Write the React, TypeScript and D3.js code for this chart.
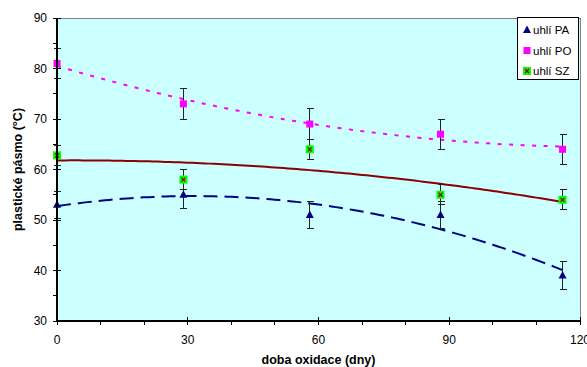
import React from "react";
import * as d3 from "d3";

const days = [0, 29, 58, 88, 116];
const seriesNames = ["uhlí PA", "uhlí PO", "uhlí SZ"];
const paValues = [53, 55, 51, 51, 39];
const poValues = [81, 73, 69, 67, 64];
const szValues = [62.8, 58, 64, 55, 54];
const paErrors = [2.7, 2.7, 2.7, 2.7, 2.7];
const poErrors = [3, 3, 3, 3, 3];
const szErrors = [2, 2, 2, 2, 2];
const xTicks = [0, 30, 60, 90, 120];
const yTicks = [30, 40, 50, 60, 70, 80, 90];

const W = 587, H = 367;
const M = { left: 57, right: 580, top: 18, bottom: 321 };

function polyFit2(xs: number[], ys: number[]) {
  // least squares quadratic (like Excel's polynomial trendline)
  const n = xs.length;
  let s = [0, 0, 0, 0, 0];
  let t = [0, 0, 0];
  for (let i = 0; i < n; i++) {
    const x = xs[i], y = ys[i];
    for (let k = 0; k < 5; k++) s[k] += Math.pow(x, k);
    for (let k = 0; k < 3; k++) t[k] += Math.pow(x, k) * y;
  }
  const A = [
    [s[0], s[1], s[2], t[0]],
    [s[1], s[2], s[3], t[1]],
    [s[2], s[3], s[4], t[2]],
  ];
  for (let i = 0; i < 3; i++) {
    let p = i;
    for (let r = i + 1; r < 3; r++) if (Math.abs(A[r][i]) > Math.abs(A[p][i])) p = r;
    [A[i], A[p]] = [A[p], A[i]];
    for (let r = 0; r < 3; r++) {
      if (r === i) continue;
      const f = A[r][i] / A[i][i];
      for (let c = i; c < 4; c++) A[r][c] -= f * A[i][c];
    }
  }
  const coef = [A[0][3] / A[0][0], A[1][3] / A[1][1], A[2][3] / A[2][2]];
  return (x: number) => coef[0] + coef[1] * x + coef[2] * x * x;
}

export default function App() {
  const x = d3.scaleLinear().domain([0, 120]).range([M.left, M.right]);
  const y = d3.scaleLinear().domain([30, 90]).range([M.bottom, M.top]);
  const font = "Liberation Sans, Arial, sans-serif";

  const trendPath = (vals: number[]) => {
    const f = polyFit2(days, vals);
    const pts = d3.range(0, 116.01, 1).map((d) => [d, f(d)] as [number, number]);
    return d3.line<[number, number]>().x((d) => x(d[0])).y((d) => y(d[1]))(pts) || "";
  };

  const errBars = (vals: number[], errs: number[], key: string) =>
    vals.map((v, i) => {
      const cx = x(days[i]);
      const y1 = y(v + errs[i]);
      const y2 = y(v - errs[i]);
      return (
        <g key={key + i} stroke="#222" strokeWidth={1} shapeRendering="crispEdges">
          <line x1={cx} x2={cx} y1={y1} y2={y2} />
          <line x1={cx - 3} x2={cx + 4} y1={y1} y2={y1} />
          <line x1={cx - 3} x2={cx + 4} y1={y2} y2={y2} />
        </g>
      );
    });

  const tri = (cx: number, cy: number, k: string) => (
    <path key={k} d={`M${cx},${cy - 4.5}L${cx + 4},${cy + 3}L${cx - 4},${cy + 3}Z`} fill="#000080" />
  );
  const sq = (cx: number, cy: number, k: string) => (
    <rect key={k} x={cx - 3.5} y={cy - 3.5} width={7} height={7} fill="#ff00ff" />
  );
  const szm = (cx: number, cy: number, k: string) => (
    <g key={k}>
      <rect x={cx - 4} y={cy - 4} width={8} height={8} fill="#00ff00" />
      <path d={`M${cx - 2},${cy - 2}L${cx + 2},${cy + 2}M${cx + 2},${cy - 2}L${cx - 2},${cy + 2}`} stroke="#990000" strokeWidth={1.2} />
    </g>
  );

  const yMinor = d3.range(35, 90, 10);
  const xMinor = d3.range(10, 120, 10).filter((d) => d % 30 !== 0);

  return (
    <svg width={W} height={H} style={{ position: "absolute", left: 0, top: 0, background: "#fff" }} fontFamily={font}>
      <rect x={M.left} y={M.top} width={M.right - M.left} height={M.bottom - M.top} fill="#ccffff" />
      <line x1={M.left} x2={M.right} y1={M.top} y2={M.top} stroke="#808080" shapeRendering="crispEdges" />
      <line x1={M.right} x2={M.right} y1={M.top} y2={M.bottom} stroke="#808080" shapeRendering="crispEdges" />

      {/* trendlines */}
      <path d={trendPath(szValues)} fill="none" stroke="#8b0000" strokeWidth={2} />
      <path d={trendPath(poValues)} fill="none" stroke="#ff00ff" strokeWidth={2} strokeDasharray="4,7.5" />
      <path d={trendPath(paValues)} fill="none" stroke="#000080" strokeWidth={2} strokeDasharray="14,7" />

      {errBars(poValues, poErrors, "po")}
      {errBars(szValues, szErrors, "sz")}
      {errBars(paValues, paErrors, "pa")}

      {paValues.map((v, i) => tri(x(days[i]), y(v), "pam" + i))}
      {poValues.map((v, i) => sq(x(days[i]), y(v), "pom" + i))}
      {szValues.map((v, i) => szm(x(days[i]), y(v), "szm" + i))}

      {/* axes */}
      <g stroke="#000" strokeWidth={1} shapeRendering="crispEdges">
        <line x1={M.left} x2={M.left} y1={M.top} y2={M.bottom} strokeWidth={1.5} />
        <line x1={M.left} x2={M.right} y1={M.bottom} y2={M.bottom} strokeWidth={1.5} />
        {yTicks.map((t) => (
          <line key={"yt" + t} x1={M.left - 4} x2={M.left + 4} y1={y(t)} y2={y(t)} />
        ))}
        {yMinor.map((t) => (
          <line key={"ym" + t} x1={M.left - 4} x2={M.left} y1={y(t)} y2={y(t)} />
        ))}
        {xTicks.map((t) => (
          <line key={"xt" + t} x1={x(t)} x2={x(t)} y1={M.bottom - 4} y2={M.bottom + 4} />
        ))}
        {xMinor.map((t) => (
          <line key={"xm" + t} x1={x(t)} x2={x(t)} y1={M.bottom} y2={M.bottom + 4} />
        ))}
      </g>
      {yTicks.map((t) => (
        <text key={"yl" + t} x={M.left - 10} y={y(t)} dy="0.35em" textAnchor="end" fontSize={12} fill="#000">
          {t}
        </text>
      ))}
      {xTicks.map((t) => (
        <text key={"xl" + t} x={x(t)} y={M.bottom + 23} textAnchor="middle" fontSize={12} fill="#000">
          {t}
        </text>
      ))}
      <text x={(M.left + M.right) / 2} y={364} textAnchor="middle" fontSize={12.5} fontWeight="bold">
        doba oxidace (dny)
      </text>
      <text transform={`translate(22,${(M.top + M.bottom) / 2}) rotate(-90)`} textAnchor="middle" fontSize={12.5} fontWeight="bold">
        plastické pásmo (°C)
      </text>

      {/* legend */}
      <rect x={517.5} y={17.5} width={61} height={62} fill="#fff" stroke="#000" />
      {seriesNames.map((n, i) => {
        const cy = 30 + i * 20.5;
        return (
          <g key={"lg" + i}>
            {i === 0 ? tri(527, cy, "lt") : i === 1 ? sq(527, cy, "ls") : szm(527, cy, "lz")}
            <text x={533} y={cy} dy="0.35em" fontSize={11.5}>
              {n}
            </text>
          </g>
        );
      })}
    </svg>
  );
}
